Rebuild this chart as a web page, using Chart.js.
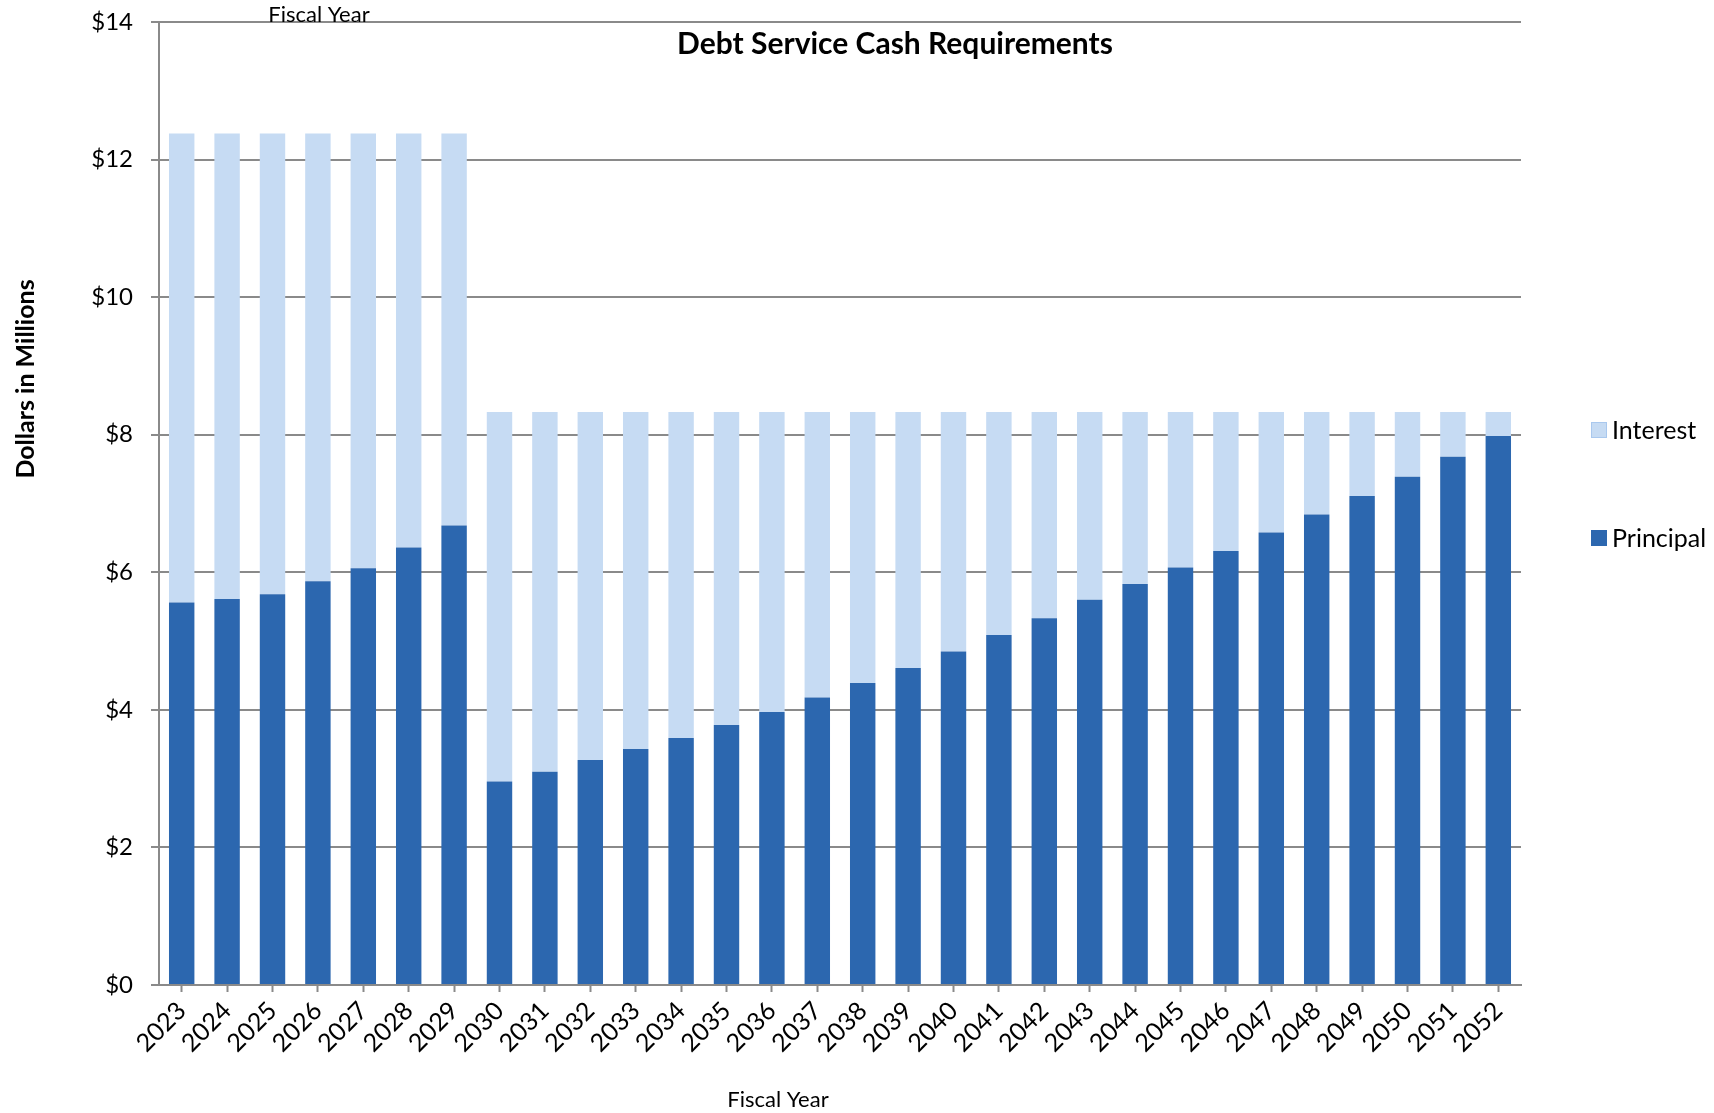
<!DOCTYPE html>
<html>
<head>
<meta charset="utf-8">
<title>Debt Service Cash Requirements</title>
<script src="https://cdn.jsdelivr.net/npm/chart.js@4.4.1/dist/chart.umd.min.js"></script>
<style>
  html, body { margin: 0; padding: 0; background: #fff; }
  #wrap { width: 1714px; height: 1113px; }
</style>
</head>
<body>
<div id="wrap"><canvas id="debtChart" width="1714" height="1113"></canvas></div>
<script>
// Datos (millones de dólares)
const years = ['2023','2024','2025','2026','2027','2028','2029','2030','2031','2032',
               '2033','2034','2035','2036','2037','2038','2039','2040','2041','2042',
               '2043','2044','2045','2046','2047','2048','2049','2050','2051','2052'];
const principal = [5.56, 5.61, 5.68, 5.87, 6.06, 6.36, 6.68, 2.96, 3.10, 3.27,
                   3.43, 3.59, 3.78, 3.97, 4.18, 4.39, 4.61, 4.85, 5.09, 5.33,
                   5.60, 5.83, 6.07, 6.31, 6.58, 6.84, 7.11, 7.39, 7.68, 7.98];
const totalService = [12.38, 12.38, 12.38, 12.38, 12.38, 12.38, 12.38, 8.33, 8.33, 8.33,
                      8.33, 8.33, 8.33, 8.33, 8.33, 8.33, 8.33, 8.33, 8.33, 8.33,
                      8.33, 8.33, 8.33, 8.33, 8.33, 8.33, 8.33, 8.33, 8.33, 8.33];
const interest = totalService.map((t, i) => +(t - principal[i]).toFixed(2));
const yTicks = [0, 2, 4, 6, 8, 10, 12, 14];

const COLOR_PRINCIPAL = '#2C67AF';
const COLOR_INTEREST = '#C6DBF3';
const GRID = '#8A8A8A';
const FONT = 'Lato, "Open Sans", sans-serif';

// Textos y leyenda dibujados a mano alrededor del área del gráfico
const extraText = {
    id: 'extraText',
    afterDraw(chart) {
        const ctx = chart.ctx;
        ctx.save();
        ctx.fillStyle = '#000';
        ctx.textAlign = 'center';
        ctx.textBaseline = 'middle';

        ctx.font = 'bold 30px ' + FONT;
        ctx.fillText('Debt Service Cash Requirements', 895, 44);

        ctx.font = '22px ' + FONT;
        ctx.fillText('Fiscal Year', 319, 15);
        ctx.fillText('Fiscal Year', 778, 1100);

        ctx.save();
        ctx.translate(26, 379);
        ctx.rotate(-Math.PI / 2);
        ctx.font = 'bold 25px ' + FONT;
        ctx.fillText('Dollars in Millions', 0, 0);
        ctx.restore();

        // Leyenda
        const items = [
            { label: 'Interest', color: COLOR_INTEREST, border: '#A9C8EE', y: 430 },
            { label: 'Principal', color: COLOR_PRINCIPAL, border: '#2C67AF', y: 538 }
        ];
        ctx.textAlign = 'left';
        ctx.font = '25px ' + FONT;
        items.forEach(it => {
            ctx.fillStyle = it.color;
            ctx.fillRect(1591, it.y - 8, 16, 16);
            ctx.strokeStyle = it.border;
            ctx.lineWidth = 1;
            ctx.strokeRect(1591.5, it.y - 7.5, 15, 15);
            ctx.fillStyle = '#000';
            ctx.fillText(it.label, 1612, it.y + 1);
        });
        ctx.restore();
    }
};

const ctx = document.getElementById('debtChart').getContext('2d');
new Chart(ctx, {
    type: 'bar',
    data: {
        labels: years,
        datasets: [
            {
                label: 'Principal',
                data: principal,
                backgroundColor: COLOR_PRINCIPAL,
                borderWidth: 0,
                barPercentage: 0.56,
                categoryPercentage: 1.0
            },
            {
                label: 'Interest',
                data: interest,
                backgroundColor: COLOR_INTEREST,
                borderWidth: 0,
                barPercentage: 0.56,
                categoryPercentage: 1.0
            }
        ]
    },
    options: {
        responsive: false,
        animation: false,
        layout: { padding: { top: 22, right: 193, left: 0, bottom: 0 } },
        plugins: {
            legend: { display: false },
            tooltip: { enabled: false },
            title: { display: false }
        },
        scales: {
            x: {
                stacked: true,
                afterFit: s => {
                    s.height = 128;
                    s.paddingLeft = 0;
                    s.paddingRight = 0;
                },
                grid: {
                    offset: false,
                    drawOnChartArea: false,
                    drawTicks: true,
                    tickLength: 7,
                    tickColor: GRID,
                    tickWidth: 2
                },
                border: { color: GRID, width: 2 },
                ticks: {
                    color: '#000',
                    font: { family: FONT, size: 25 },
                    minRotation: 45,
                    maxRotation: 45,
                    autoSkip: false,
                    padding: 4
                }
            },
            y: {
                stacked: true,
                min: 0,
                max: 14,
                afterFit: s => {
                    s.width = 159;
                    s.paddingTop = 0;
                    s.paddingBottom = 0;
                },
                afterBuildTicks: s => { s.ticks = yTicks.map(v => ({ value: v })); },
                grid: {
                    color: GRID,
                    lineWidth: 2,
                    tickLength: 8,
                    tickColor: GRID
                },
                border: { color: GRID, width: 2 },
                ticks: {
                    color: '#000',
                    font: { family: FONT, size: 24 },
                    padding: 18,
                    callback: v => '$' + v
                }
            }
        }
    },
    plugins: [extraText]
});
</script>
</body>
</html>
